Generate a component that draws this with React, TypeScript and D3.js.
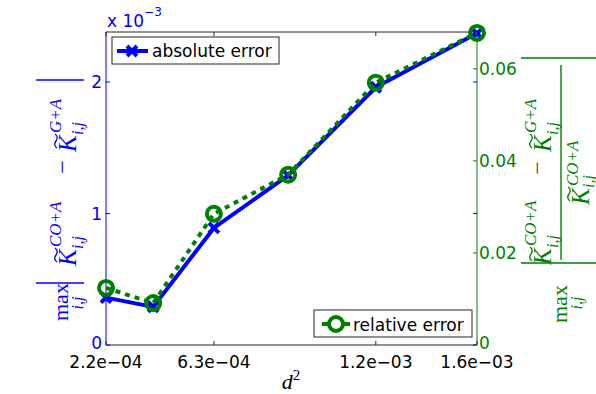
import { useEffect, useRef } from "react";
import * as d3 from "d3";

// d^2 values (x) and the two error series
const d2 = [2.25e-4, 4e-4, 6.25e-4, 9e-4, 1.225e-3, 1.6e-3];
const absErr = [0.36e-3, 0.29e-3, 0.89e-3, 1.29e-3, 1.96e-3, 2.37e-3];
const relErr = [0.0124, 0.0091, 0.0285, 0.037, 0.057, 0.0678];

const xTicks = [2.25e-4, 6.25e-4, 1.225e-3, 1.6e-3];
const xTickLabels = ["2.2e\u221204", "6.3e\u221204", "1.2e\u221203", "1.6e\u221203"];
const absTicks = [0, 1e-3, 2e-3];
const absTickLabels = ["0", "1", "2"];
const relTicks = [0, 0.02, 0.04, 0.06];
const relTickLabels = ["0", "0.02", "0.04", "0.06"];

const BLUE = "#0000ff";
const GREEN = "#008000";
const AX = "#262626";
const SANS = "'DejaVu Sans', sans-serif";
const SERIF = "'Liberation Serif', 'Times New Roman', serif";

const App = () => {
  const ref = useRef(null);

  useEffect(() => {
    if (!ref.current) return;
    const svg = d3.select(ref.current);
    svg.selectAll("*").remove();

    const width = 596;
    const height = 394;
    const left = 106, right = 477, top = 32, bottom = 345;

    svg.attr("viewBox", [0, 0, width, height] as any);

    const x = d3.scaleLinear().domain([2.25e-4, 1.6e-3]).range([left, right]);
    const yA = d3.scaleLinear().domain([0, 2.38e-3]).range([bottom, top]);
    const yR = d3.scaleLinear().domain([0, 0.068]).range([bottom, top]);

    svg.append("rect").attr("width", width).attr("height", height).attr("fill", "#fff");

    // box
    svg.append("line").attr("x1", left).attr("x2", right).attr("y1", bottom).attr("y2", bottom).attr("stroke", AX);
    svg.append("line").attr("x1", left).attr("x2", right).attr("y1", top).attr("y2", top).attr("stroke", AX);
    svg.append("line").attr("x1", left).attr("x2", left).attr("y1", top).attr("y2", bottom).attr("stroke", BLUE);
    svg.append("line").attr("x1", right).attr("x2", right).attr("y1", top).attr("y2", bottom).attr("stroke", GREEN);

    // x ticks
    const tl = 4;
    xTicks.forEach((t, i) => {
      const px = x(t);
      svg.append("line").attr("x1", px).attr("x2", px).attr("y1", bottom).attr("y2", bottom - tl).attr("stroke", AX);
      svg.append("line").attr("x1", px).attr("x2", px).attr("y1", top).attr("y2", top + tl).attr("stroke", AX);
      svg.append("text").attr("x", px).attr("y", bottom + 23).attr("text-anchor", "middle")
        .attr("font-family", SANS).attr("font-size", 17).attr("fill", "#000").text(xTickLabels[i]);
    });

    // left ticks
    absTicks.forEach((t, i) => {
      const py = yA(t);
      svg.append("line").attr("x1", left).attr("x2", left + tl).attr("y1", py).attr("y2", py).attr("stroke", BLUE);
      svg.append("line").attr("x1", right).attr("x2", right - tl).attr("y1", py).attr("y2", py).attr("stroke", BLUE);
      svg.append("text").attr("x", left - 4).attr("y", i === 0 ? py - 2 : py).attr("dy", "0.36em").attr("text-anchor", "end")
        .attr("font-family", SANS).attr("font-size", 17).attr("fill", BLUE).text(absTickLabels[i]);
    });

    // right ticks
    relTicks.forEach((t, i) => {
      const py = yR(t);
      svg.append("line").attr("x1", right).attr("x2", right - tl).attr("y1", py).attr("y2", py).attr("stroke", GREEN);
      svg.append("text").attr("x", right + 2).attr("y", i === 0 ? py - 2 : py).attr("dy", "0.36em").attr("text-anchor", "start")
        .attr("font-family", SANS).attr("font-size", 17).attr("fill", GREEN).text(relTickLabels[i]);
    });

    // exponent
    const ex = svg.append("text").attr("x", left + 1).attr("y", 27).attr("font-family", SANS).attr("fill", BLUE);
    ex.append("tspan").attr("font-size", 17).text("x 10");
    ex.append("tspan").attr("font-size", 12).attr("dy", -11).text("\u22123");

    // absolute error series
    const idx = d3.range(d2.length);
    const lineA = d3.line<number>().x((i) => x(d2[i])).y((i) => yA(absErr[i]));
    svg.append("path").attr("d", lineA(idx)).attr("fill", "none").attr("stroke", BLUE).attr("stroke-width", 4).attr("stroke-linejoin", "round");
    const cross = (g: any, cx: number, cy: number, s: number) => {
      g.append("path").attr("d", `M${cx - s},${cy - s}L${cx + s},${cy + s}M${cx - s},${cy + s}L${cx + s},${cy - s}`)
        .attr("stroke", BLUE).attr("stroke-width", 4).attr("fill", "none");
    };
    idx.forEach((i) => cross(svg, x(d2[i]), yA(absErr[i]), 5));

    // relative error series
    const lineR = d3.line<number>().x((i) => x(d2[i])).y((i) => yR(relErr[i]));
    svg.append("path").attr("d", lineR(idx)).attr("fill", "none").attr("stroke", GREEN).attr("stroke-width", 4).attr("stroke-dasharray", "5,5");
    svg.selectAll(".rc").data(idx).join("circle").attr("class", "rc")
      .attr("cx", (i) => x(d2[i])).attr("cy", (i) => yR(relErr[i])).attr("r", 7)
      .attr("fill", "none").attr("stroke", GREEN).attr("stroke-width", 4);

    // legends
    const legA = svg.append("g");
    legA.append("rect").attr("x", 112).attr("y", 37).attr("width", 167).attr("height", 27).attr("fill", "#fff").attr("stroke", AX);
    legA.append("line").attr("x1", 117).attr("x2", 148).attr("y1", 51).attr("y2", 51).attr("stroke", BLUE).attr("stroke-width", 4);
    cross(legA, 132, 51, 5);
    legA.append("text").attr("x", 152).attr("y", 57).attr("font-family", SANS).attr("font-size", 17).text("absolute error");

    const legR = svg.append("g");
    legR.append("rect").attr("x", 314).attr("y", 310).attr("width", 158).attr("height", 27).attr("fill", "#fff").attr("stroke", AX);
    legR.append("line").attr("x1", 322).attr("x2", 350).attr("y1", 324).attr("y2", 324).attr("stroke", GREEN).attr("stroke-width", 4);
    legR.append("circle").attr("cx", 336).attr("cy", 324).attr("r", 7).attr("fill", "#fff").attr("stroke", GREEN).attr("stroke-width", 4);
    legR.append("text").attr("x", 353).attr("y", 331).attr("font-family", SANS).attr("font-size", 17).text("relative error");

    // x label
    const xl = svg.append("text").attr("x", 291).attr("y", 389).attr("text-anchor", "middle").attr("font-family", SERIF);
    xl.append("tspan").attr("font-size", 22).attr("font-style", "italic").text("d");
    xl.append("tspan").attr("font-size", 15).attr("dy", -9).text("2");

    // math label helpers; group rotated -90 so local x = -imageY, local y = imageX
    const txt = (g: any, s: string, lx: number, ly: number, size: number, italic: boolean, color: string, anchor = "start") =>
      g.append("text").attr("x", lx).attr("y", ly).attr("font-family", SERIF).attr("font-size", size)
        .attr("font-style", italic ? "italic" : "normal").attr("fill", color).attr("text-anchor", anchor).text(s);
    const ktilde = (g: any, lx: number, base: number, sup: string, color: string, supOff = 15, subOff = 7) => {
      txt(g, "K", lx, base, 25, true, color);
      const x0 = lx + 4, y0 = base - 20;
      g.append("path")
        .attr("d", `M${x0},${y0 + 1}Q${x0 + 3},${y0 - 3} ${x0 + 7},${y0}T${x0 + 14},${y0 - 1}`)
        .attr("fill", "none").attr("stroke", color).attr("stroke-width", 1.3);
      txt(g, sup, lx + 19, base - supOff, 17, true, color);
      txt(g, "i,j", lx + 17, base + subOff, 16, true, color);
    };
    const bar = (g: any, lx: number, y1: number, y2: number, color: string) =>
      g.append("line").attr("x1", lx).attr("x2", lx).attr("y1", y1).attr("y2", y2).attr("stroke", color).attr("stroke-width", 1.6);

    // left y label
    const gl = svg.append("g").attr("transform", "rotate(-90)");
    txt(gl, "max", -321, 68, 22, false, BLUE);
    txt(gl, "i,j", -303, 83, 16, true, BLUE, "middle");
    bar(gl, -283, 36, 84, BLUE);
    ktilde(gl, -266, 76, "CO+A", BLUE);
    txt(gl, "\u2212", -167, 70, 24, false, BLUE, "middle");
    ktilde(gl, -152, 76, "G+A", BLUE);
    bar(gl, -80, 36, 84, BLUE);

    // right y label
    const gr = svg.append("g").attr("transform", "rotate(-90)");
    txt(gr, "max", -323, 567, 22, false, GREEN);
    txt(gr, "i,j", -303, 582, 16, true, GREEN, "middle");
    bar(gr, -263, 521, 600, GREEN);
    ktilde(gr, -265, 551, "CO+A", GREEN);
    txt(gr, "\u2212", -168, 545, 24, false, GREEN, "middle");
    ktilde(gr, -152, 551, "G+A", GREEN);
    gr.append("line").attr("x1", -260).attr("x2", -65).attr("y1", 561).attr("y2", 561).attr("stroke", GREEN).attr("stroke-width", 1.4);
    ktilde(gr, -205, 589, "CO+A", GREEN, 11, 5);
    bar(gr, -58, 521, 600, GREEN);
  }, []);

  return (
    <svg
      ref={ref}
      width={596}
      height={394}
      style={{ position: "absolute", left: 0, top: 0, display: "block" }}
    ></svg>
  );
};

export default App;
